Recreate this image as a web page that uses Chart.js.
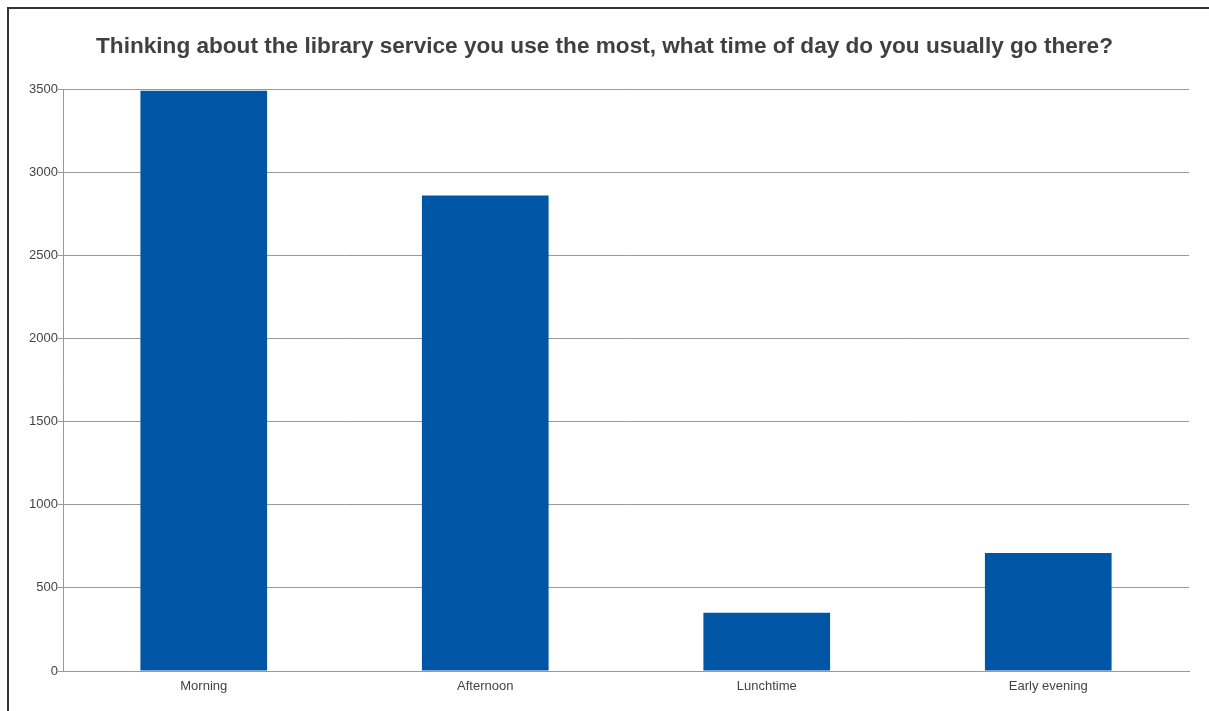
<html>
<head>
<meta charset="utf-8">
<title>Library visits</title>
<script src="https://cdn.jsdelivr.net/npm/chart.js@4.4.1/dist/chart.umd.min.js"></script>
<style>
    html, body {
        margin: 0;
        padding: 0;
        background: #ffffff;
    }
    #frame {
        position: absolute;
        left: 7px;
        top: 7px;
        width: 1202px;
        height: 704px;
        border-top: 2px solid #333333;
        border-left: 2px solid #333333;
        box-sizing: border-box;
        pointer-events: none;
    }
    .container {
        position: absolute;
        left: 0;
        top: 0;
        width: 1209px;
        height: 711px;
    }
</style>
</head>
<body>
<div class="container">
    <canvas id="myChart"></canvas>
</div>
<div id="frame"></div>

<script>
    // survey answers
    let aCategories = ["Morning", "Afternoon", "Lunchtime", "Early evening"];
    let aCounts = [3490, 2860, 350, 710];
    let aTicks = [0, 500, 1000, 1500, 2000, 2500, 3000, 3500];

    let sTitle = "Thinking about the library service you use the most, what time of day do you usually go there?";

    Chart.defaults.font.family = "'Liberation Sans', Arial, sans-serif";

    var ctx = document.getElementById('myChart').getContext('2d');
    var myChart = new Chart(ctx, {
        type: 'bar',
        data: {
            labels: aCategories,
            datasets: [{
                label: 'Responses',
                data: aCounts,
                backgroundColor: "#0055a5",
                borderWidth: 0,
                barPercentage: 0.45,
                categoryPercentage: 1.0
            }]
        },
        options: {
            responsive: true,
            maintainAspectRatio: false,
            animation: false,
            layout: {
                // equal side padding keeps the title centred on the page
                padding: { left: 20, right: 20, top: 0, bottom: 0 }
            },
            plugins: {
                legend: { display: false },
                tooltip: { enabled: false },
                title: {
                    display: true,
                    text: sTitle,
                    color: "#404040",
                    font: { size: 22.6, weight: 'bold' },
                    padding: { top: 33, bottom: 29 }
                }
            },
            scales: {
                x: {
                    grid: { display: false },
                    border: { display: true, color: "#999999" },
                    ticks: {
                        color: "#444444",
                        font: { size: 13 },
                        padding: 0
                    },
                    afterFit: function (scale) {
                        scale.height = 40;
                    }
                },
                y: {
                    min: 0,
                    max: 3500,
                    afterBuildTicks: function (scale) {
                        scale.ticks = aTicks.map(function (v) { return { value: v }; });
                    },
                    grid: {
                        color: "#999999",
                        lineWidth: 1,
                        drawTicks: true,
                        tickLength: 5
                    },
                    border: { display: true, color: "#999999" },
                    ticks: {
                        color: "#444444",
                        font: { size: 13 },
                        padding: 0,
                        callback: function (value) { return String(value); }
                    },
                    afterFit: function (scale) {
                        scale.width = 43;
                    }
                }
            }
        }
    });
</script>
</body>
</html>
